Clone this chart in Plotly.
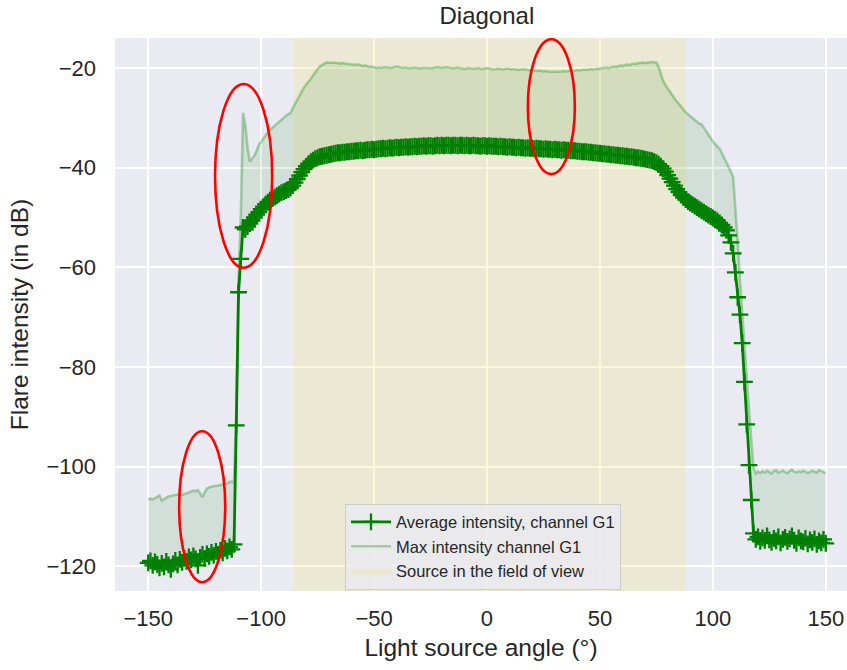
import plotly.graph_objects as go

# ---------------- data ----------------
angles = list(range(-150, 151))  # light source angle, 1 degree steps

avg_g1 = [
    # -150 .. -141
    -119.3, -118.9, -119.8, -119.1, -119.6, -120.3, -119.4, -120.1, -119.0, -119.7,
    # -140 .. -131
    -120.6, -119.5, -118.8, -119.7, -118.6, -119.2, -118.4, -119.0, -118.1, -118.7,
    # -130 .. -121
    -117.9, -118.5, -119.8, -118.2, -117.6, -118.4, -117.5, -118.0, -117.2, -117.8,
    # -120 .. -112
    -117.0, -117.6, -116.8, -117.3, -116.4, -116.9, -116.1, -116.6, -115.6,
    # -111 .. -108
    -91.7, -65.0, -58.3, -52.0,
    # -107 .. -98
    -52.4, -51.8, -51.2, -50.6, -50.0, -49.4, -48.9, -48.3, -47.8, -47.3,
    # -97 .. -88
    -46.9, -46.5, -46.2, -45.9, -45.6, -45.3, -45.0, -44.8, -44.6, -44.4,
    # -87 .. -78
    -44.1, -43.6, -43.0, -42.3, -41.6, -40.9, -40.3, -39.7, -39.2, -38.8,
    # -77 .. -68
    -38.5, -38.2, -38.0, -37.8, -37.7, -37.6, -37.5, -37.4, -37.3, -37.2,
    # -67 .. -58
    -37.1, -37.0, -37.0, -36.9, -36.9, -36.8, -36.8, -36.7, -36.7, -36.6,
    # -57 .. -48
    -36.6, -36.5, -36.6, -36.5, -36.4, -36.4, -36.3, -36.4, -36.3, -36.2,
    # -47 .. -38
    -36.2, -36.1, -36.2, -36.1, -36.0, -36.1, -36.0, -35.9, -36.0, -35.9,
    # -37 .. -28
    -35.9, -35.8, -35.9, -35.8, -35.8, -35.7, -35.8, -35.7, -35.7, -35.6,
    # -27 .. -18
    -35.7, -35.6, -35.6, -35.7, -35.6, -35.5, -35.6, -35.5, -35.6, -35.5,
    # -17 .. -8
    -35.5, -35.6, -35.5, -35.5, -35.6, -35.5, -35.5, -35.6, -35.5, -35.6,
    # -7 .. 2
    -35.6, -35.5, -35.6, -35.6, -35.7, -35.6, -35.6, -35.7, -35.6, -35.7,
    # 3 .. 12
    -35.7, -35.7, -35.8, -35.7, -35.8, -35.8, -35.9, -35.8, -35.9, -35.9,
    # 13 .. 22
    -36.0, -35.9, -36.0, -36.0, -36.1, -36.0, -36.1, -36.1, -36.2, -36.1,
    # 23 .. 32
    -36.2, -36.2, -36.3, -36.2, -36.3, -36.3, -36.4, -36.3, -36.4, -36.4,
    # 33 .. 42
    -36.5, -36.4, -36.5, -36.5, -36.6, -36.6, -36.6, -36.7, -36.7, -36.8,
    # 43 .. 52
    -36.8, -36.8, -36.9, -36.9, -37.0, -37.0, -37.1, -37.1, -37.2, -37.2,
    # 53 .. 62
    -37.3, -37.3, -37.4, -37.4, -37.5, -37.5, -37.6, -37.6, -37.7, -37.7,
    # 63 .. 72
    -37.8, -37.8, -37.9, -38.0, -38.0, -38.1, -38.2, -38.3, -38.4, -38.5,
    # 73 .. 82
    -38.6, -38.8, -39.0, -39.3, -39.7, -40.2, -40.8, -41.5, -42.2, -42.9,
    # 83 .. 92
    -43.6, -44.3, -44.9, -45.5, -46.0, -46.4, -46.8, -47.1, -47.4, -47.7,
    # 93 .. 102
    -48.0, -48.3, -48.6, -48.9, -49.2, -49.5, -49.8, -50.1, -50.4, -50.7,
    # 103 .. 112
    -51.1, -51.5, -52.0, -52.6, -53.6, -55.0, -57.2, -61.0, -66.0, -69.5,
    # 113 .. 122
    -75.2, -83.0, -91.5, -99.7, -106.7, -113.4, -114.6, -114.1, -115.0, -114.3,
    # 123 .. 132
    -114.8, -113.9, -114.7, -115.2, -114.4, -114.9, -114.1, -115.3, -114.6, -114.2,
    # 133 .. 142
    -115.0, -114.5, -113.9, -114.8, -115.4, -114.3, -114.9, -115.1, -114.4, -115.5,
    # 143 .. 150
    -114.7, -115.2, -114.5, -115.6, -114.9, -115.3, -114.6, -115.4,
]

max_g1 = [
    # -150 .. -141
    -106.6, -106.4, -106.6, -106.3, -106.0, -105.8, -106.8, -106.5, -106.2, -106.0,
    # -140 .. -131
    -105.9, -105.8, -105.7, -105.6, -105.7, -105.7, -105.5, -105.4, -105.2, -105.0,
    # -130 .. -121
    -104.8, -104.9, -104.7, -105.4, -106.1, -105.2, -104.4, -104.2, -104.0, -103.9,
    # -120 .. -112
    -103.9, -103.8, -103.7, -103.6, -103.5, -103.4, -103.1, -103.0, -103.2,
    # -111 .. -108
    -89.0, -62.0, -50.0, -29.0,
    # -107 .. -98
    -31.5, -36.0, -38.8, -38.2, -37.6, -36.6, -35.4, -34.8, -34.1, -33.5,
    # -97 .. -88
    -32.9, -32.4, -32.0, -31.6, -31.1, -30.7, -30.3, -29.9, -29.6, -29.3,
    # -87 .. -78
    -29.0, -28.1, -27.2, -26.3, -25.4, -24.6, -23.9, -23.3, -22.8, -22.2,
    # -77 .. -69
    -21.5, -20.8, -20.2, -19.7, -19.3, -19.1, -18.9, -18.9, -18.9,
    # -68 .. -59
    -18.9, -19.0, -19.0, -19.1, -19.0, -19.1, -19.2, -19.2, -19.3, -19.3,
    # -58 .. -49
    -19.4, -19.3, -19.5, -19.6, -19.5, -19.7, -19.8, -19.7, -19.9, -20.0,
    # -48 .. -39
    -19.9, -20.0, -19.9, -19.8, -19.9, -20.0, -19.9, -19.8, -19.7, -19.8,
    # -38 .. -29
    -19.9, -20.0, -19.9, -20.0, -20.1, -20.0, -19.9, -20.0, -20.1, -20.0,
    # -28 .. -19
    -20.0, -19.9, -20.0, -20.1, -20.0, -19.9, -19.8, -19.9, -20.0, -19.9,
    # -18 .. -9
    -19.8, -19.9, -20.0, -20.1, -20.0, -19.9, -20.0, -20.1, -20.2, -20.1,
    # -8 .. 1
    -20.0, -20.1, -20.2, -20.1, -20.0, -20.1, -20.2, -20.1, -20.0, -20.1,
    # 2 .. 11
    -20.2, -20.3, -20.2, -20.1, -20.2, -20.3, -20.2, -20.1, -20.2, -20.3,
    # 12 .. 21
    -20.2, -20.3, -20.4, -20.3, -20.2, -20.3, -20.4, -20.5, -20.4, -20.5,
    # 22 .. 31
    -20.6, -20.5, -20.6, -20.7, -20.6, -20.7, -20.8, -20.7, -20.8, -20.7,
    # 32 .. 41
    -20.8, -20.7, -20.6, -20.7, -20.6, -20.5, -20.6, -20.5, -20.4, -20.5,
    # 42 .. 51
    -20.4, -20.3, -20.4, -20.3, -20.2, -20.3, -20.2, -20.1, -20.2, -20.0,
    # 52 .. 61
    -20.0, -19.9, -20.0, -19.8, -19.7, -19.8, -19.6, -19.5, -19.6, -19.4,
    # 62 .. 71
    -19.3, -19.4, -19.2, -19.1, -19.2, -19.0, -19.0, -18.9, -19.0, -18.9,
    # 72 .. 81
    -18.9, -18.8, -18.9, -18.9, -19.8, -21.2, -22.6, -23.4, -24.1, -24.9,
    # 82 .. 91
    -25.5, -26.1, -26.7, -27.3, -27.9, -28.5, -28.9, -29.3, -29.7, -30.1,
    # 92 .. 101
    -30.5, -30.9, -31.2, -31.3, -32.0, -32.8, -33.5, -34.1, -34.7, -35.3,
    # 102 .. 111
    -35.8, -36.2, -37.1, -38.0, -38.9, -39.8, -40.8, -42.0, -48.0, -55.0,
    # 112 .. 121
    -62.5, -68.5, -75.0, -82.0, -88.5, -95.0, -100.3, -101.4, -101.0, -101.3,
    # 122 .. 131
    -100.9, -101.2, -100.8, -101.1, -101.4, -100.9, -100.7, -101.2, -101.0, -100.8,
    # 132 .. 141
    -101.1, -101.3, -100.9, -100.6, -101.0, -101.2, -100.9, -101.1, -100.8, -101.0,
    # 142 .. 150
    -101.3, -101.1, -100.8, -101.0, -101.2, -100.7, -100.9, -101.1, -101.3,
]

fov_span = [-85.7, 88.1]          # light source inside the field of view
x_ticks = [-150, -100, -50, 0, 50, 100, 150]
y_ticks = [-120, -100, -80, -60, -40, -20]

# highlighted regions (red ellipses), in data units: (x0, x1, y0, y1)
highlights = [
    (-120.4, -95.1, -60.1, -23.2),
    (-136.3, -115.9, -123.2, -92.9),
    (18.1, 38.9, -41.3, -14.2),
]

assert len(avg_g1) == len(angles), len(avg_g1)
assert len(max_g1) == len(angles), len(max_g1)

# ---------------- figure ----------------
GREEN = "rgb(0,128,0)"
TXT = "#262626"
FONT = "Liberation Sans, Arial, sans-serif"

fig = go.Figure()

# field-of-view span (drawn first -> below everything)
fig.add_trace(go.Scatter(
    x=[fov_span[0], fov_span[1], fov_span[1], fov_span[0], fov_span[0]],
    y=[-300, -300, 100, 100, -300],
    mode="lines", fill="toself", fillcolor="rgba(240,230,140,0.30)",
    line=dict(width=0, color="rgba(240,230,140,0)"),
    name="Source in the field of view", legendrank=3, legendgroup="c",
    hoverinfo="skip",
))

# shaded band between average and max
fig.add_trace(go.Scatter(x=angles, y=max_g1, mode="lines", line=dict(width=0),
                         showlegend=False, hoverinfo="skip"))
fig.add_trace(go.Scatter(x=angles, y=avg_g1, mode="lines", line=dict(width=0),
                         fill="tonexty", fillcolor="rgba(0,128,0,0.10)",
                         showlegend=False, hoverinfo="skip"))

fig.add_trace(go.Scatter(
    x=angles, y=max_g1, mode="lines",
    line=dict(color="rgba(0,128,0,0.30)", width=2.6),
    name="Max intensity channel G1", legendrank=2, legendgroup="b",
))
fig.add_trace(go.Scatter(
    x=angles, y=avg_g1, mode="lines+markers",
    line=dict(color=GREEN, width=2.8),
    marker=dict(symbol="cross-thin", size=12, color=GREEN,
                line=dict(color=GREEN, width=2.3)),
    name="Average intensity, channel G1", legendrank=1, legendgroup="a",
))

for (x0, x1, y0, y1) in highlights:
    fig.add_shape(type="circle", xref="x", yref="y", x0=x0, x1=x1, y0=y0, y1=y1,
                  line=dict(color="red", width=2.6), layer="above")

fig.update_layout(
    width=847, height=670,
    margin=dict(l=115, r=0, t=38, b=79, autoexpand=False),
    paper_bgcolor="white", plot_bgcolor="#EAEAF2",
    font=dict(family=FONT, color=TXT),
    title=dict(text="Diagonal", x=0.508, xref="paper", xanchor="center",
               y=1 - 16 / 670, yref="container", yanchor="middle",
               font=dict(size=24, color=TXT, family=FONT)),
    legend=dict(x=0.3142, y=0.158, xanchor="left", yanchor="top",
                bgcolor="rgba(234,234,242,0.8)", bordercolor="#cccccc",
                borderwidth=1, font=dict(size=16.5, color=TXT, family=FONT),
                tracegroupgap=0, itemwidth=40),
    showlegend=True,
)
fig.update_xaxes(
    range=[-164.7, 159.4], tickvals=x_ticks, showgrid=True, gridcolor="white",
    gridwidth=1.8, zeroline=False, showline=False, ticks="",
    tickfont=dict(size=22, color=TXT, family=FONT), ticklabelstandoff=12,
    title=dict(text="Light source angle (°)", font=dict(size=24.5, color=TXT, family=FONT),
               standoff=8),
)
fig.update_yaxes(
    range=[-124.96, -13.97], tickvals=y_ticks, showgrid=True, gridcolor="white",
    gridwidth=1.8, zeroline=False, showline=False, ticks="",
    tickfont=dict(size=22, color=TXT, family=FONT), ticklabelstandoff=18,
    title=dict(text="Flare intensity (in dB)", font=dict(size=24.5, color=TXT, family=FONT),
               standoff=10),
)

fig.write_html("out.html")
